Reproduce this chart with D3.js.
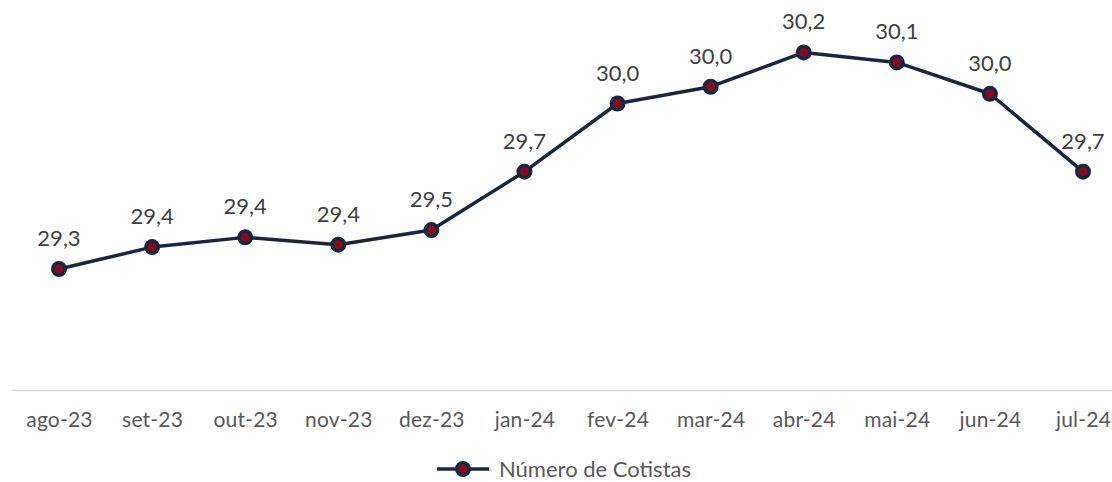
<!DOCTYPE html>
<html lang="pt">

<head>
    <meta charset="UTF-8">
    <title>Número de Cotistas</title>
    <style>
        body { margin: 0; background: #fff; }
        text { font-family: Lato, "Open Sans", sans-serif; }
    </style>
</head>

<body>
    <script type="text/javascript" src="https://cdn.jsdelivr.net/npm/d3@7/dist/d3.min.js"></script>
    <script type="text/javascript">
    var months = ["ago-23", "set-23", "out-23", "nov-23", "dez-23", "jan-24",
                  "fev-24", "mar-24", "abr-24", "mai-24", "jun-24", "jul-24"];
    var cotistas = [29.30, 29.39, 29.43, 29.40, 29.46, 29.70,
                    29.98, 30.049, 30.19, 30.149, 30.02, 29.70];
    var seriesName = "Número de Cotistas";
    var yDomain = [28.8, 30.4];

    var w = 1112,
        h = 482,
        lineColor = "#182640",
        dotColor = "#8a0c1c";

    var svg = d3.select("body")
        .append("svg")
        .attr("width", w)
        .attr("height", h);

    var x = d3.scalePoint()
        .domain(months)
        .range([59, 1083]);

    var y = d3.scaleLinear()
        .domain(yDomain)
        .range([390.7, 1.3]);

    // base line
    svg.append("line")
        .attr("x1", 12)
        .attr("x2", w)
        .attr("y1", 390.5)
        .attr("y2", 390.5)
        .attr("stroke", "#d9d9d9")
        .attr("stroke-width", 1.3);

    // category labels
    var xAxis = svg.append("g")
        .attr("transform", "translate(0,390.5)")
        .call(d3.axisBottom(x).tickSize(0).tickPadding(22));
    xAxis.select(".domain").remove();
    xAxis.selectAll("text")
        .attr("font-size", "21px")
        .attr("font-family", "Lato, sans-serif")
        .attr("letter-spacing", "0.2px")
        .attr("fill", "#595959");

    var line = d3.line()
        .x(function(d, i) { return x(months[i]); })
        .y(function(d) { return y(d); });

    svg.append("path")
        .datum(cotistas)
        .attr("d", line)
        .attr("fill", "none")
        .attr("stroke", lineColor)
        .attr("stroke-width", 3.5)
        .attr("stroke-linejoin", "round");

    svg.selectAll("circle.pt")
        .data(cotistas)
        .enter()
        .append("circle")
        .attr("class", "pt")
        .attr("cx", function(d, i) { return x(months[i]); })
        .attr("cy", function(d) { return y(d); })
        .attr("r", 6.2)
        .attr("fill", dotColor)
        .attr("stroke", lineColor)
        .attr("stroke-width", 3.6);

    var fmt = function(d) { return d3.format(".1f")(d).replace(".", ","); };

    svg.selectAll("text.val")
        .data(cotistas)
        .enter()
        .append("text")
        .attr("class", "val")
        .text(fmt)
        .attr("x", function(d, i) { return x(months[i]); })
        .attr("y", function(d) { return y(d) - 23; })
        .attr("text-anchor", "middle")
        .attr("font-size", "22px")
        .attr("fill", "#404040");

    // legend
    var legend = svg.append("g").attr("transform", "translate(0,469)");
    legend.append("line")
        .attr("x1", 437)
        .attr("x2", 489)
        .attr("stroke", lineColor)
        .attr("stroke-width", 3.5);
    legend.append("circle")
        .attr("cx", 463)
        .attr("r", 6.2)
        .attr("fill", dotColor)
        .attr("stroke", lineColor)
        .attr("stroke-width", 3.6);
    legend.append("text")
        .attr("x", 499)
        .attr("y", 8)
        .attr("font-size", "22px")
        .attr("fill", "#595959")
        .text(seriesName);
    </script>
</body>

</html>
